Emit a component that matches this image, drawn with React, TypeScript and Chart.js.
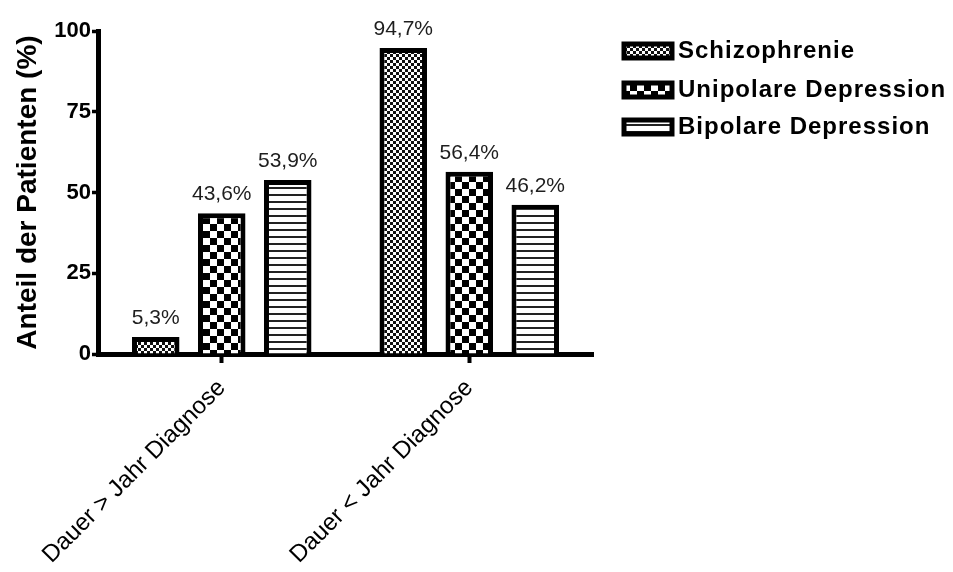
import React, { useEffect, useRef } from 'react';
import { Chart, registerables } from 'chart.js';

Chart.register(...registerables);

const categories = ['Dauer > Jahr Diagnose', 'Dauer < Jahr Diagnose'];
const seriesNames = ['Schizophrenie', 'Unipolare Depression', 'Bipolare Depression'];
const schizophrenie = [5.3, 94.7];
const unipolareDepression = [43.6, 56.4];
const bipolareDepression = [53.9, 46.2];
const yTicks = [0, 25, 50, 75, 100];
const yTitle = 'Anteil der Patienten (%)';

const FONT = '"Liberation Sans", Arial, Helvetica, sans-serif';

function makePattern(kind: string): CanvasPattern | string {
  const c = document.createElement('canvas');
  const ctx = c.getContext('2d');
  if (!ctx) return '#888';
  if (kind === 'fine') {
    c.width = 6; c.height = 6;
    ctx.fillStyle = '#ffffff';
    ctx.fillRect(0, 0, 6, 6);
    ctx.fillStyle = '#111111';
    ctx.fillRect(0, 0, 3, 3);
    ctx.fillRect(3, 3, 3, 3);
  } else if (kind === 'checker') {
    c.width = 14; c.height = 14;
    ctx.fillStyle = '#ffffff';
    ctx.fillRect(0, 0, 14, 14);
    ctx.fillStyle = '#000000';
    ctx.fillRect(0, 0, 7, 7);
    ctx.fillRect(7, 7, 7, 7);
  } else {
    c.width = 8; c.height = 7;
    ctx.fillStyle = '#ffffff';
    ctx.fillRect(0, 0, 8, 7);
    ctx.fillStyle = '#222222';
    ctx.fillRect(0, 5, 8, 2);
  }
  const p = ctx.createPattern(c, 'repeat');
  return p || '#888';
}

const fmt = (v: number) => v.toFixed(1).replace('.', ',') + '%';

const labelPlugin = {
  id: 'valueLabels',
  afterDatasetsDraw(chart: any) {
    const ctx = chart.ctx;
    ctx.save();
    ctx.font = `21px ${FONT}`;
    ctx.fillStyle = '#1e1e1e';
    ctx.textAlign = 'center';
    ctx.textBaseline = 'alphabetic';
    chart.data.datasets.forEach((ds: any, i: number) => {
      const meta = chart.getDatasetMeta(i);
      meta.data.forEach((el: any, j: number) => {
        ctx.fillText(fmt(ds.data[j]), el.x, el.y - 13);
      });
    });
    ctx.restore();
  },
};

const legendPlugin = {
  id: 'customLegend',
  afterDraw(chart: any) {
    const ctx = chart.ctx;
    ctx.save();
    const x0 = 624;
    const rowY = [51, 90, 127];
    chart.data.datasets.forEach((ds: any, i: number) => {
      const cy = rowY[i];
      ctx.fillStyle = ds.backgroundColor;
      ctx.fillRect(x0, cy - 7, 48, 14);
      ctx.lineWidth = 5;
      ctx.strokeStyle = '#000';
      ctx.strokeRect(x0, cy - 7, 48, 14);
      ctx.fillStyle = '#000';
      ctx.font = `bold 24px ${FONT}`;
      try { (ctx as any).letterSpacing = '1px'; } catch (e) { /* ignore */ }
      ctx.textAlign = 'left';
      ctx.textBaseline = 'middle';
      ctx.fillText(ds.label, x0 + 54, cy);
      try { (ctx as any).letterSpacing = '0px'; } catch (e) { /* ignore */ }
    });
    ctx.restore();
  },
};

export default function App() {
  const ref = useRef<HTMLCanvasElement | null>(null);
  useEffect(() => {
    document.body.style.margin = '0';
    const canvas = ref.current;
    if (!canvas) return;
    const patterns = [makePattern('fine'), makePattern('checker'), makePattern('lines')];
    const values = [schizophrenie, unipolareDepression, bipolareDepression];
    const chart = new Chart(canvas, {
      type: 'bar',
      data: {
        labels: categories,
        datasets: seriesNames.map((name, i) => ({
          label: name,
          data: values[i],
          backgroundColor: patterns[i] as any,
          borderColor: '#000',
          borderWidth: 5,
          categoryPercentage: 0.8,
          barPercentage: 0.72,
        })),
      },
      options: {
        animation: false,
        responsive: false,
        layout: { padding: { top: 31, right: 360, left: 0, bottom: 0 } },
        plugins: {
          legend: { display: false },
          tooltip: { enabled: false },
        },
        scales: {
          x: {
            grid: {
              drawOnChartArea: false,
              offset: false,
              tickLength: 9,
              tickWidth: 4,
              color: '#000',
            },
            border: { display: true, color: '#000', width: 5 },
            ticks: {
              maxRotation: 45,
              minRotation: 45,
              color: '#000',
              padding: 11,
              font: { family: FONT, size: 24 },
            },
            afterFit: (s: any) => { s.height = 218; },
          },
          y: {
            min: 0,
            max: 100,
            afterBuildTicks: (s: any) => { s.ticks = yTicks.map((v) => ({ value: v })); },
            grid: {
              drawOnChartArea: false,
              tickLength: 6,
              tickWidth: 3.5,
              color: '#000',
            },
            border: { display: true, color: '#000', width: 5 },
            ticks: {
              color: '#000',
              padding: 1,
              font: { family: FONT, size: 22, weight: 'bold' },
            },
            title: {
              display: true,
              text: yTitle,
              color: '#000',
              font: { family: FONT, size: 28, weight: 'bold' },
              padding: { top: 11, bottom: 0 },
            },
            afterFit: (s: any) => { s.width = 98; },
          },
        },
      },
      plugins: [labelPlugin, legendPlugin],
    });
    return () => chart.destroy();
  }, []);
  return (
    <div style={{ width: 953, height: 572 }}>
      <canvas ref={ref} width={953} height={572} />
    </div>
  );
}
